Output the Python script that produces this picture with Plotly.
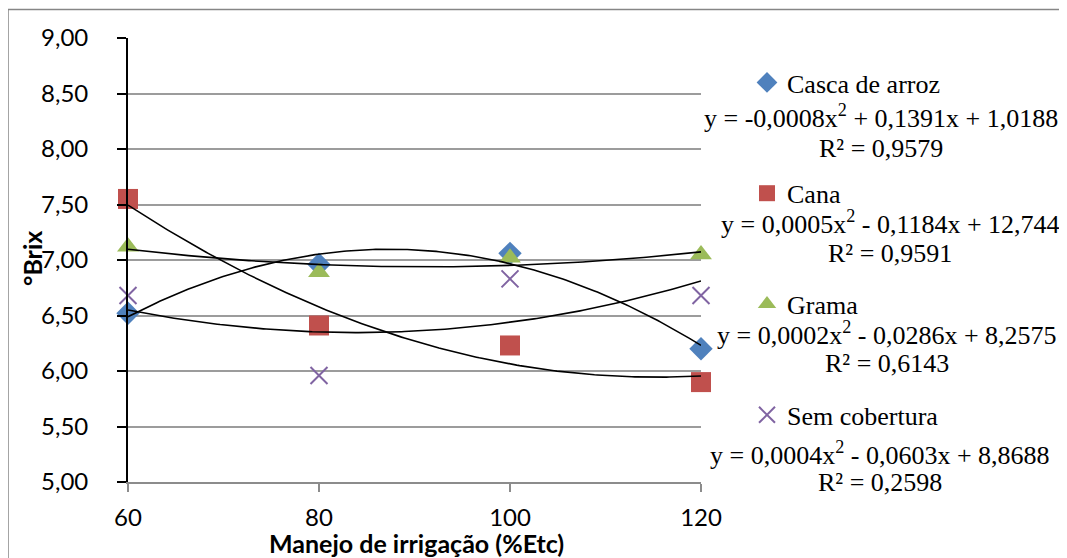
import numpy as np
import plotly.graph_objects as go

# ---- data ----
irrigacao = [60, 80, 100, 120]
casca_de_arroz = [6.52, 6.96, 7.06, 6.20]
cana = [7.55, 6.41, 6.23, 5.90]
grama = [7.12, 6.89, 7.02, 7.05]
sem_cobertura = [6.68, 5.96, 6.83, 6.68]

series_names = ["Casca de arroz", "Cana", "Grama", "Sem cobertura"]
equations = [
    "y = -0,0008x<sup>2</sup> + 0,1391x + 1,0188",
    "y = 0,0005x<sup>2</sup> - 0,1184x + 12,744",
    "y = 0,0002x<sup>2</sup> - 0,0286x + 8,2575",
    "y = 0,0004x<sup>2</sup> - 0,0603x + 8,8688",
]
r2_labels = ["R² = 0,9579", "R² = 0,9591", "R² = 0,6143", "R² = 0,2598"]
x_ticks = [60, 80, 100, 120]
y_ticks = [5.0, 5.5, 6.0, 6.5, 7.0, 7.5, 8.0, 8.5, 9.0]
x_title = "Manejo de irrigação (%Etc)"
y_title = "°Brix"

values = [casca_de_arroz, cana, grama, sem_cobertura]
colors = ["#4F81BD", "#C0504D", "#9BBB59", "#8064A2"]
symbols = ["diamond", "square", "triangle-up", "x-thin"]
sizes = [18, 20, 19, 17]

SANS = "Lato, 'Liberation Sans', sans-serif"
SERIF = "'Liberation Serif', 'Times New Roman', serif"

fig = go.Figure()

# markers
for name, vals, col, sym, sz in zip(series_names, values, colors, symbols, sizes):
    marker = dict(color=col, symbol=sym, size=sz)
    if sym == "x-thin":
        marker["line"] = dict(color=col, width=2)
    fig.add_trace(go.Scatter(
        x=irrigacao, y=vals, mode="markers", name=name, cliponaxis=False,
        legendgroup=name, marker=marker, showlegend=True,
    ))

# polynomial (order 2) trendlines fitted from the data
xs = np.linspace(min(irrigacao), max(irrigacao), 200)
for name, vals in zip(series_names, values):
    coef = np.polyfit(irrigacao, vals, 2)
    fig.add_trace(go.Scatter(
        x=xs, y=np.polyval(coef, xs), mode="lines", cliponaxis=False,
        line=dict(color="black", width=1.6),
        showlegend=False, hoverinfo="skip", legendgroup=name,
    ))

# page offset of the figure inside the browser window (default body margin)
OFF = 8
W, H = 1067, 558
L, T = 128 - OFF, 38 - OFF
R = W - (701 - OFF)
B = H - (482 - OFF)
PW, PH = W - L - R, H - T - B


def px(x):
    return (x - OFF - L) / PW


def py(y):
    return (H - B - (y - OFF)) / PH


eq_pos = [(881, 117, 148), (890, 222, 253), (887, 333, 363), (880, 453, 482)]
annotations = []
for eq, r2, (cx, ye, yr) in zip(equations, r2_labels, eq_pos):
    annotations.append(dict(x=px(cx), y=py(ye), xref="paper", yref="paper",
                            text=eq, showarrow=False, xanchor="center", yanchor="middle",
                            font=dict(family=SERIF, size=26, color="black")))
    annotations.append(dict(x=px(cx), y=py(yr), xref="paper", yref="paper",
                            text=r2, showarrow=False, xanchor="center", yanchor="middle",
                            font=dict(family=SERIF, size=26, color="black")))

# axis titles
annotations.append(dict(x=px(32), y=py(259), xref="paper", yref="paper",
                        text=f"<b>{y_title}</b>", textangle=-90, showarrow=False,
                        xanchor="center", yanchor="middle",
                        font=dict(family=SANS, size=25, color="black")))
annotations.append(dict(x=px(416), y=py(543), xref="paper", yref="paper",
                        text=f"<b>{x_title}</b>", showarrow=False,
                        xanchor="center", yanchor="middle",
                        font=dict(family=SANS, size=25, color="black")))

shapes = [
    dict(type="line", xref="paper", yref="paper", x0=px(8), x1=px(1100), y0=py(9.5), y1=py(9.5),
         line=dict(color="#868686", width=1.5)),
    dict(type="line", xref="paper", yref="paper", x0=px(8), x1=px(8), y0=py(9.5), y1=py(600),
         line=dict(color="#868686", width=1.5)),
]

fig.update_layout(
    width=W, height=H,
    margin=dict(l=L, r=R, t=T, b=B, autoexpand=False),
    paper_bgcolor="white", plot_bgcolor="white",
    separators=",.",
    showlegend=True,
    legend=dict(x=px(747), y=py(59), xanchor="left", yanchor="top",
                font=dict(family=SERIF, size=26, color="black"),
                tracegroupgap=74, bgcolor="rgba(0,0,0,0)", itemclick=False,
                traceorder="grouped"),
    annotations=annotations,
    shapes=shapes,
    xaxis=dict(
        range=[60, 120], tickvals=x_ticks, ticktext=[str(t) for t in x_ticks],
        showgrid=False, zeroline=False,
        showline=True, linecolor="#8c8c8c", linewidth=1.5,
        ticks="outside", ticklen=8, tickcolor="#8c8c8c", tickwidth=1.5,
        ticklabelstandoff=5,
        tickfont=dict(family=SANS, size=24, color="black"),
    ),
    yaxis=dict(
        range=[5, 9], tickvals=y_ticks, tickformat=".2f",
        showgrid=True, gridcolor="#9c9c9c", gridwidth=1.5, zeroline=False,
        showline=True, linecolor="black", linewidth=1.8,
        ticks="outside", ticklen=9, tickcolor="black", tickwidth=1.5,
        ticklabelstandoff=24,
        tickfont=dict(family=SANS, size=24, color="black"),
    ),
)

fig.write_html("out.html")
